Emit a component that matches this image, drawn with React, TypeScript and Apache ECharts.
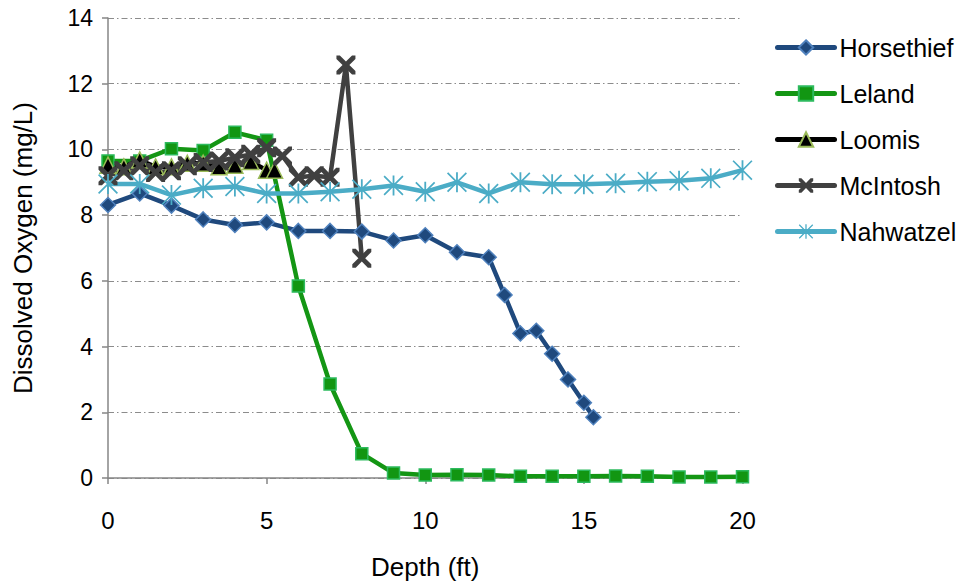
import React, { useEffect, useRef } from "react";
import * as echarts from "echarts";

const horsethiefDepth = [0, 1, 2, 3, 4, 5, 6, 7, 8, 9, 10, 11, 12, 12.5, 13, 13.5, 14, 14.5, 15, 15.3];
const horsethiefDO = [8.31, 8.66, 8.29, 7.87, 7.7, 7.78, 7.52, 7.52, 7.5, 7.23, 7.39, 6.87, 6.72, 5.57, 4.4, 4.48, 3.78, 3.0, 2.29, 1.85];

const lelandDepth = [0, 1, 2, 3, 4, 5, 6, 7, 8, 9, 10, 11, 12, 13, 14, 15, 16, 17, 18, 19, 20];
const lelandDO = [9.65, 9.65, 10.02, 9.97, 10.52, 10.28, 5.84, 2.86, 0.74, 0.15, 0.09, 0.1, 0.09, 0.05, 0.05, 0.05, 0.06, 0.05, 0.03, 0.03, 0.04];

const loomisDepth = [0, 0.5, 1, 1.5, 2, 2.5, 3, 3.5, 4, 4.5, 5, 5.25];
const loomisDO = [9.52, 9.47, 9.68, 9.47, 9.47, 9.58, 9.58, 9.47, 9.52, 9.63, 9.37, 9.37];

const mcintoshDepth = [0, 0.5, 1, 1.5, 2, 2.5, 3, 3.5, 4, 4.5, 5, 5.5, 6, 6.5, 7, 7.5, 8];
const mcintoshDO = [9.2, 9.35, 9.5, 9.3, 9.35, 9.5, 9.6, 9.65, 9.75, 9.85, 10.05, 9.8, 9.15, 9.2, 9.15, 12.57, 6.69];

const nahwatzelDepth = [0, 1, 2, 3, 4, 5, 6, 7, 8, 9, 10, 11, 12, 13, 14, 15, 16, 17, 18, 19, 20];
const nahwatzelDO = [8.95, 8.95, 8.61, 8.82, 8.87, 8.66, 8.66, 8.71, 8.79, 8.9, 8.71, 9.0, 8.66, 9.0, 8.94, 8.94, 8.97, 9.02, 9.05, 9.12, 9.37];

const seriesNames = ["Horsethief", "Leland", "Loomis", "McIntosh", "Nahwatzel"];

const zip = (xs: number[], ys: number[]) => xs.map((x, i) => [x, ys[i]]);

const X_PATH =
  "path://M0,0 L3.6,0 L10,6.4 L16.4,0 L20,0 L20,3.6 L13.6,10 L20,16.4 L20,20 L16.4,20 L10,13.6 L3.6,20 L0,20 L0,16.4 L6.4,10 L0,3.6 Z";
const STAR_PATH =
  "path://M9.1,0 L10.9,0 L10.9,20 L9.1,20 Z M1.2,0 L20,18.8 L18.8,20 L0,1.2 Z M18.8,0 L20,1.2 L1.2,20 L0,18.8 Z";

const FONT = "'Liberation Sans', Arial, sans-serif";

export default function App() {
  const ref = useRef<HTMLDivElement>(null);
  useEffect(() => {
    if (!ref.current) return;
    const chart = echarts.init(ref.current, undefined, { renderer: "svg" });
    const lineW = 4.5;
    chart.setOption({
      animation: false,
      backgroundColor: "#ffffff",
      textStyle: { fontFamily: FONT },
      grid: { left: 108, right: 222.5, top: 18, bottom: 107 },
      legend: {
        orient: "vertical",
        left: 770,
        top: 30,
        itemWidth: 57,
        itemHeight: 18,
        itemGap: 21,
        data: seriesNames,
        lineStyle: { width: 5, cap: "round" },
        textStyle: { fontSize: 25, color: "#000", fontFamily: FONT, padding: [0, 0, 0, 0] },
      },
      xAxis: {
        type: "value",
        min: 0,
        max: 20,
        interval: 5,
        name: "Depth (ft)",
        nameLocation: "middle",
        nameGap: 76,
        nameTextStyle: { fontSize: 26, color: "#000", fontFamily: FONT },
        axisLine: { show: true, lineStyle: { color: "#868686", width: 1.5 } },
        axisTick: { show: true, length: 6, lineStyle: { color: "#868686", width: 1.5 } },
        axisLabel: { fontSize: 24, color: "#000", margin: 30, fontFamily: FONT },
        splitLine: { show: false },
      },
      yAxis: {
        type: "value",
        min: 0,
        max: 14,
        interval: 2,
        name: "Dissolved Oxygen (mg/L)",
        nameLocation: "middle",
        nameGap: 72,
        nameTextStyle: { fontSize: 26, color: "#000", fontFamily: FONT },
        axisLine: { show: true, lineStyle: { color: "#868686", width: 1.5 } },
        axisTick: { show: true, length: 6, lineStyle: { color: "#868686", width: 1.5 } },
        axisLabel: { fontSize: 23, color: "#000", margin: 15, fontFamily: FONT },
        splitLine: { show: true, lineStyle: { color: "#8c8c8c", width: 1, type: [6, 3, 1.5, 3] } },
      },
      series: [
        {
          name: "Horsethief",
          type: "line",
          data: zip(horsethiefDepth, horsethiefDO),
          symbol: "diamond",
          symbolSize: 15,
          lineStyle: { color: "#1F497D", width: lineW },
          itemStyle: { color: "#1F497D", borderColor: "#4F81BD", borderWidth: 1.5 },
        },
        {
          name: "Leland",
          type: "line",
          data: zip(lelandDepth, lelandDO),
          symbol: "rect",
          symbolSize: 12,
          lineStyle: { color: "#149614", width: lineW },
          itemStyle: { color: "#129612", borderColor: "#2DBA5E", borderWidth: 1.5 },
        },
        {
          name: "Loomis",
          type: "line",
          data: zip(loomisDepth, loomisDO),
          symbol: "triangle",
          symbolSize: 16,
          lineStyle: { color: "#000000", width: lineW },
          itemStyle: { color: "#000000", borderColor: "#9BBB59", borderWidth: 1.5 },
        },
        {
          name: "McIntosh",
          type: "line",
          data: zip(mcintoshDepth, mcintoshDO),
          symbol: X_PATH,
          symbolSize: 19,
          lineStyle: { color: "#404040", width: lineW },
          itemStyle: { color: "#404040" },
        },
        {
          name: "Nahwatzel",
          type: "line",
          data: zip(nahwatzelDepth, nahwatzelDO),
          symbol: STAR_PATH,
          symbolSize: 20,
          lineStyle: { color: "#4BACC6", width: lineW },
          itemStyle: { color: "#4BACC6" },
        },
      ],
    });
    return () => chart.dispose();
  }, []);
  return (
    <div
      ref={ref}
      style={{ position: "fixed", left: 0, top: 0, width: 965, height: 585, background: "#fff" }}
    />
  );
}
